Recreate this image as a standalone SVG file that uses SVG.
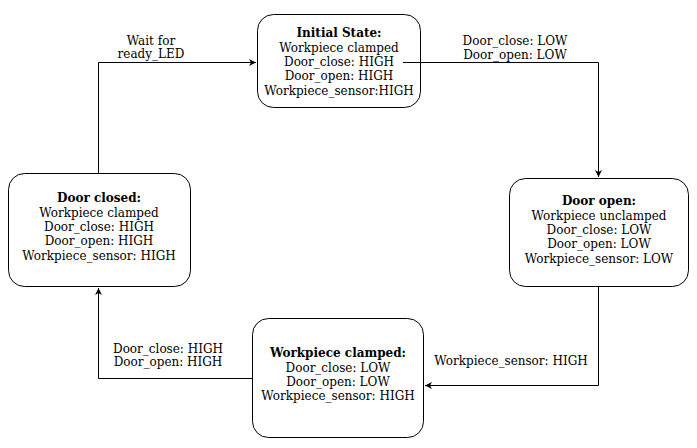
<svg xmlns="http://www.w3.org/2000/svg" width="697" height="448" viewBox="0 0 697 448">
<style>
.box{fill:#fff;stroke:#000;stroke-width:1}
text{font-family:"DejaVu Serif",serif;font-size:12px;fill:#000;text-anchor:middle}
.t{font-weight:bold}
.c{fill:none;stroke:#000;stroke-width:1}
</style>
<defs>
<marker id="ah" markerWidth="8" markerHeight="8" refX="7" refY="4" orient="auto" markerUnits="userSpaceOnUse">
<path d="M0,0.5 L7,4 L0,7.5 L2,4 Z" fill="#000"/>
</marker>
</defs>
<g id="initial">
<rect class="box" x="257.5" y="14.5" width="163" height="93" rx="16"/>
<text class="t" x="339" y="37">Initial State:</text>
<text x="339" y="52">Workpiece clamped</text>
<text x="339" y="66">Door_close: HIGH</text>
<text x="339" y="80">Door_open: HIGH</text>
<text x="339" y="95">Workpiece_sensor:HIGH</text>
</g>
<g id="door-closed">
<rect class="box" x="8.5" y="173.5" width="182" height="113" rx="16"/>
<text class="t" x="99" y="202">Door closed:</text>
<text x="99" y="217">Workpiece clamped</text>
<text x="99" y="231">Door_close: HIGH</text>
<text x="99" y="245">Door_open: HIGH</text>
<text x="99" y="260">Workpiece_sensor: HIGH</text>
</g>
<g id="door-open">
<rect class="box" x="509.5" y="178.5" width="179" height="108" rx="16"/>
<text class="t" x="599" y="205">Door open:</text>
<text x="599" y="220">Workpiece unclamped</text>
<text x="599" y="234">Door_close: LOW</text>
<text x="599" y="248">Door_open: LOW</text>
<text x="599" y="263">Workpiece_sensor: LOW</text>
</g>
<g id="workpiece-clamped">
<rect class="box" x="252.5" y="318.5" width="171" height="119" rx="16"/>
<text class="t" x="338" y="357">Workpiece clamped:</text>
<text x="338" y="372">Door_close: LOW</text>
<text x="338" y="386">Door_open: LOW</text>
<text x="338" y="400">Workpiece_sensor: HIGH</text>
</g>
<g id="connectors">
<path class="c" d="M98.5,173 V62.5 H256" marker-end="url(#ah)"/>
<path class="c" d="M403,62.5 H598.5 V177" marker-end="url(#ah)"/>
<path class="c" d="M598.5,287 V385.5 H425" marker-end="url(#ah)"/>
<path class="c" d="M252,378.5 H98.5 V288" marker-end="url(#ah)"/>
<text x="151" y="45">Wait for</text>
<text x="151" y="58">ready_LED</text>
<text x="515" y="45">Door_close: LOW</text>
<text x="515" y="59">Door_open: LOW</text>
<text x="511" y="365">Workpiece_sensor: HIGH</text>
<text x="168" y="353">Door_close: HIGH</text>
<text x="168" y="366">Door_open: HIGH</text>
</g>
</svg>
